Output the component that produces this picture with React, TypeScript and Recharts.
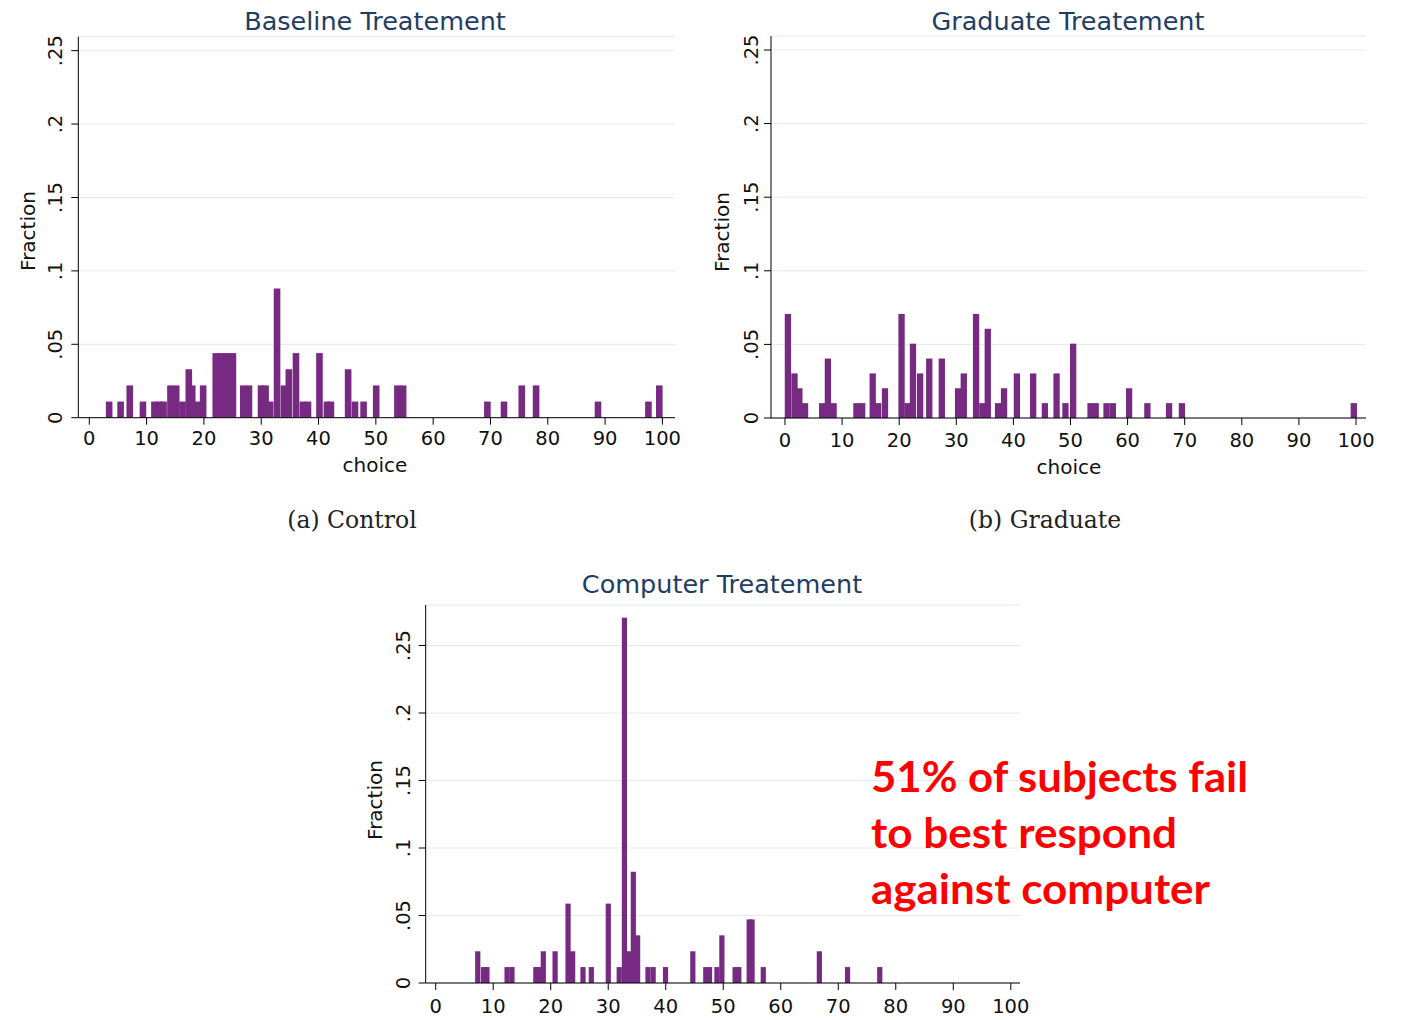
import React from 'react';
import { BarChart, Bar, XAxis, YAxis, CartesianGrid } from 'recharts';

// ---------- data (bar centre on the choice axis, fraction of subjects) ----------
const baselineChoice = [3.5, 5.5, 7.1, 9.4, 11.4, 12.3, 13.0, 14.2, 15.2, 16.3, 17.4, 18.0, 18.9, 19.9, 22.1, 23.1, 24.1, 25.1, 26.9, 27.9, 30.0, 30.8, 31.6, 32.8, 34.0, 34.85, 36.1, 37.3, 38.2, 40.2, 41.5, 42.2, 45.2, 46.4, 47.9, 50.1, 53.8, 54.8, 69.5, 72.4, 75.5, 78.0, 88.8, 97.6, 99.5];
const baselineFraction = [0.011, 0.011, 0.022, 0.011, 0.011, 0.011, 0.011, 0.022, 0.022, 0.011, 0.033, 0.022, 0.011, 0.022, 0.044, 0.044, 0.044, 0.044, 0.022, 0.022, 0.022, 0.022, 0.011, 0.088, 0.022, 0.033, 0.044, 0.011, 0.011, 0.044, 0.011, 0.011, 0.033, 0.011, 0.011, 0.022, 0.022, 0.022, 0.011, 0.011, 0.022, 0.022, 0.011, 0.011, 0.022];

const graduateChoice = [0.5, 1.65, 2.5, 3.5, 6.5, 7.5, 8.5, 12.5, 13.5, 15.35, 16.3, 17.5, 20.4, 21.45, 22.4, 23.65, 25.25, 27.45, 30.3, 31.3, 33.45, 34.55, 35.5, 37.3, 38.35, 40.6, 43.45, 45.5, 47.55, 49.1, 50.45, 53.5, 54.4, 56.3, 57.4, 60.25, 63.45, 67.25, 69.5, 99.6];
const graduateFraction = [0.0707, 0.0303, 0.0202, 0.0101, 0.0101, 0.0404, 0.0101, 0.0101, 0.0101, 0.0303, 0.0101, 0.0202, 0.0707, 0.0101, 0.0505, 0.0303, 0.0404, 0.0404, 0.0202, 0.0303, 0.0707, 0.0101, 0.0606, 0.0101, 0.0202, 0.0303, 0.0303, 0.0101, 0.0303, 0.0101, 0.0505, 0.0101, 0.0101, 0.0101, 0.0101, 0.0202, 0.0101, 0.0101, 0.0101, 0.0101];

const computerChoice = [7.3, 8.3, 8.9, 12.4, 13.25, 17.4, 18.0, 18.7, 20.75, 23.0, 23.8, 25.6, 27.05, 30.0, 31.9, 32.8, 33.55, 34.35, 35.1, 36.9, 37.8, 39.95, 44.7, 46.95, 47.6, 48.9, 49.75, 52.05, 52.7, 54.5, 55.0, 56.95, 66.7, 71.6, 77.2];
const computerFraction = [0.0235, 0.0118, 0.0118, 0.0118, 0.0118, 0.0118, 0.0118, 0.0235, 0.0235, 0.0588, 0.0235, 0.0118, 0.0118, 0.0588, 0.0118, 0.2706, 0.0235, 0.0824, 0.0353, 0.0118, 0.0118, 0.0118, 0.0235, 0.0118, 0.0118, 0.0118, 0.0353, 0.0118, 0.0118, 0.0471, 0.0471, 0.0118, 0.0235, 0.0118, 0.0118];

const xTicks = [0, 10, 20, 30, 40, 50, 60, 70, 80, 90, 100];
const yTicks = [0, 0.05, 0.1, 0.15, 0.2, 0.25];
const yTickLabels = ['0', '.05', '.1', '.15', '.2', '.25'];

const titles = ['Baseline Treatement', 'Graduate Treatement', 'Computer Treatement'];
const captions = ['(a) Control', '(b) Graduate'];
const note = ['51% of subjects fail', 'to best respond', 'against computer'];

const build = (xs: number[], ys: number[]) => xs.map((c, i) => ({ choice: c, fraction: ys[i] }));

const PURPLE = '#762a82';
const GRID = '#e0eaef';
const FONT = "'DejaVu Sans', sans-serif";
const TITLE_COLOR = '#1f3d64';

// bar of a fixed pixel width, centred where the library placed the bar
const makeShape = (w: number) => (props: any) => {
  const { x, y, width, height, fill } = props;
  if (!height || height <= 0) return <g />;
  const cx = x + width / 2;
  return <rect x={cx - w / 2} y={y} width={w} height={height} fill={fill} />;
};

const makeXTick = (dy: number) => (props: any) => {
  const { x, y, payload } = props;
  return (
    <text x={x} y={y + dy} textAnchor="middle" fontFamily={FONT} fontSize={19.5} fill="#111">
      {payload.value}
    </text>
  );
};

const makeYTick = (dx: number) => (props: any) => {
  const { x, y, payload } = props;
  const i = yTicks.indexOf(payload.value);
  const tx = x + dx;
  return (
    <text x={tx} y={y} transform={`rotate(-90 ${tx} ${y})`} textAnchor="middle" fontFamily={FONT} fontSize={19.5} fill="#111">
      {yTickLabels[i] ?? payload.value}
    </text>
  );
};

type PanelProps = {
  data: { choice: number; fraction: number }[];
  width: number;
  height: number;
  margin: { top: number; right: number; bottom: number; left: number };
  yAxisWidth: number;
  xAxisHeight: number;
  xDomain: [number, number];
  yDomain: [number, number];
  barSize: number;
  xTickDy: number;
  yTickDx: number;
};

const Panel = (p: PanelProps) => (
  <BarChart width={p.width} height={p.height} data={p.data} margin={p.margin} barCategoryGap={0}>
    <CartesianGrid horizontal vertical={false} stroke={GRID} strokeWidth={1} />
    <XAxis
      type="number"
      dataKey="choice"
      domain={p.xDomain}
      ticks={xTicks}
      allowDataOverflow
      interval={0}
      height={p.xAxisHeight}
      stroke="#000"
      tickLine={{ stroke: '#000' }}
      tickSize={7}
      tickMargin={2}
      tick={makeXTick(p.xTickDy)}
    />
    <YAxis
      type="number"
      domain={p.yDomain}
      ticks={yTicks}
      allowDataOverflow
      interval={0}
      width={p.yAxisWidth}
      stroke="#000"
      tickLine={{ stroke: '#000' }}
      tickSize={7}
      tickMargin={2}
      tick={makeYTick(p.yTickDx)}
    />
    <Bar dataKey="fraction" fill={PURPLE} shape={makeShape(p.barSize)} isAnimationActive={false} />
  </BarChart>
);

export default function App() {
  return (
    <div style={{ position: 'absolute', left: 0, top: 0, width: 1404, height: 1020, background: '#fff', overflow: 'hidden' }}>
      <div style={{ position: 'absolute', left: 0, top: 0 }}>
        <Panel
          data={build(baselineChoice, baselineFraction)}
          width={700}
          height={480}
          margin={{ top: 36.7, right: 25, bottom: 22.3, left: 0 }}
          yAxisWidth={78.3}
          xAxisHeight={40}
          xDomain={[-1.92, 102.2]}
          yDomain={[0, 0.2595]}
          barSize={6.6}
          xTickDy={18}
          yTickDx={-7.6}
        />
      </div>
      <div style={{ position: 'absolute', left: 693, top: 0 }}>
        <Panel
          data={build(graduateChoice, graduateFraction)}
          width={700}
          height={480}
          margin={{ top: 36, right: 27, bottom: 22, left: 0 }}
          yAxisWidth={78}
          xAxisHeight={40}
          xDomain={[-2.45, 101.75]}
          yDomain={[0, 0.2595]}
          barSize={6.3}
          xTickDy={20}
          yTickDx={-4}
        />
      </div>
      <div style={{ position: 'absolute', left: 347, top: 560 }}>
        <Panel
          data={build(computerChoice, computerFraction)}
          width={700}
          height={460}
          margin={{ top: 45, right: 27, bottom: 0, left: 0 }}
          yAxisWidth={78.7}
          xAxisHeight={37}
          xDomain={[-1.74, 101.6]}
          yDomain={[0, 0.28]}
          barSize={5.2}
          xTickDy={21}
          yTickDx={-7}
        />
      </div>
      <svg width={1404} height={1020} style={{ position: 'absolute', left: 0, top: 0, pointerEvents: 'none' }}>
        <text x={375} y={30} textAnchor="middle" fontFamily={FONT} fontSize={25.5} fill={TITLE_COLOR}>{titles[0]}</text>
        <text x={1068} y={30} textAnchor="middle" fontFamily={FONT} fontSize={25.5} fill={TITLE_COLOR}>{titles[1]}</text>
        <text x={722} y={593} textAnchor="middle" fontFamily={FONT} fontSize={25.5} fill={TITLE_COLOR}>{titles[2]}</text>

        <text x={375} y={472} textAnchor="middle" fontFamily={FONT} fontSize={20} fill="#111">choice</text>
        <text x={1069} y={474} textAnchor="middle" fontFamily={FONT} fontSize={20} fill="#111">choice</text>

        <text x={35} y={231} transform="rotate(-90 35 231)" textAnchor="middle" fontFamily={FONT} fontSize={20} fill="#111">Fraction</text>
        <text x={729} y={232} transform="rotate(-90 729 232)" textAnchor="middle" fontFamily={FONT} fontSize={20} fill="#111">Fraction</text>
        <text x={382} y={800} transform="rotate(-90 382 800)" textAnchor="middle" fontFamily={FONT} fontSize={20} fill="#111">Fraction</text>

        <text x={352} y={528} textAnchor="middle" fontFamily="'DejaVu Serif', serif" fontSize={23.5} fill="#222">{captions[0]}</text>
        <text x={1045} y={528} textAnchor="middle" fontFamily="'DejaVu Serif', serif" fontSize={23.5} fill="#222">{captions[1]}</text>

        <text x={871} y={792} fontFamily="Lato, 'Noto Sans', sans-serif" fontWeight={700} fontSize={42} fill="#ff0000" textLength={377} lengthAdjust="spacingAndGlyphs">{note[0]}</text>
        <text x={871} y={848} fontFamily="Lato, 'Noto Sans', sans-serif" fontWeight={700} fontSize={42} fill="#ff0000" textLength={306} lengthAdjust="spacingAndGlyphs">{note[1]}</text>
        <text x={871} y={904} fontFamily="Lato, 'Noto Sans', sans-serif" fontWeight={700} fontSize={42} fill="#ff0000" textLength={339} lengthAdjust="spacingAndGlyphs">{note[2]}</text>
      </svg>
    </div>
  );
}
